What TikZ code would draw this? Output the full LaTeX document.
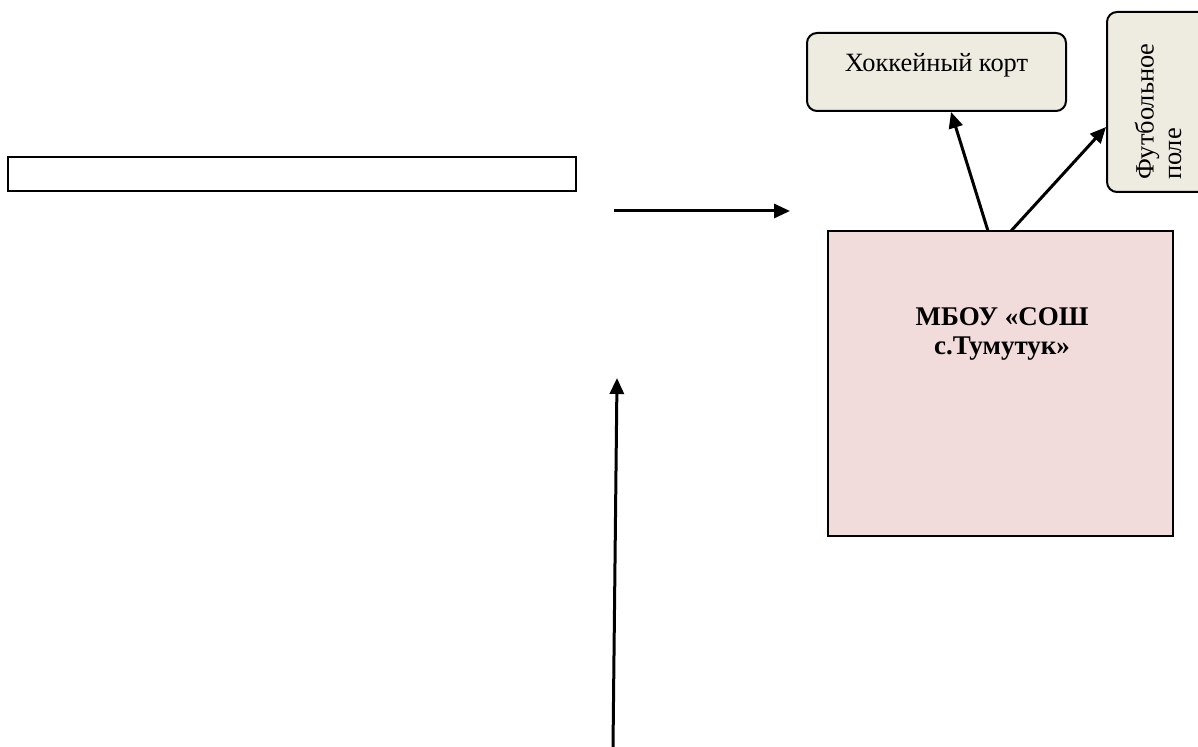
\documentclass[tikz,border=0pt]{standalone}
\usepackage{fontspec}
\setmainfont{Liberation Serif}
\usepackage{tikz}
\usetikzlibrary{shapes, positioning, arrows.meta, calc}
\definecolor{tanFill}{HTML}{EEECE1}
\definecolor{pinkFill}{HTML}{F2DCDB}
\colorlet{drawColor}{black}
\tikzstyle{roundbox}=[rectangle, rounded corners=5pt, draw=drawColor, line width=1pt, fill=tanFill,
  font=\fontsize{13.2}{13.8}\selectfont]
\tikzstyle{plainbox}=[rectangle, draw=drawColor, line width=1.1pt, fill=white]
\tikzstyle{schoolbox}=[rectangle, draw=drawColor, line width=1pt, fill=pinkFill]
\tikzstyle{arrow}=[-{Triangle[length=8pt, width=7pt]}, line width=1.5pt, draw=black]

\begin{document}
\begin{tikzpicture}[x=0.5pt, y=-0.5pt]
      \clip (0,0) rectangle (1198,747);
      \node(hockey) at (936.5,72) [roundbox, minimum width=129.5pt, minimum height=39pt,
        text height=9pt, text depth=9pt] {Хоккейный корт};
      \node(football) at (1158,102) [roundbox, rotate=90, minimum width=90pt, minimum height=51pt,
        align=left, text width=78pt, inner xsep=6pt] {Футбольное\\поле};
      \node(school) at (1000.5,383.5) [schoolbox, minimum width=172.5pt, minimum height=152.5pt] {};
      \node(schoolname) at (1002,334) [align=center, font=\bfseries\fontsize{13.5}{14.5}\selectfont]
        {МБОУ «СОШ\\с.Тумутук»};
      \node(strip) at (292,174) [plainbox, minimum width=284pt, minimum height=17pt] {};
      \coordinate(roadA) at (614,211);
      \coordinate(roadB) at (790,211);
      \coordinate(pathA) at (613,747);
      \coordinate(pathB) at (617,378);
      \coordinate(h0) at (988,231);
      \coordinate(f0) at (1011,231);
      \draw[arrow] (roadA) to (roadB);
      \draw[arrow] (pathA) to (pathB);
      \draw[arrow] (h0) to (hockey.290);
      \draw[arrow] (f0) to ($(football.north)+(0,25)$);
    \end{tikzpicture}
\end{document}
